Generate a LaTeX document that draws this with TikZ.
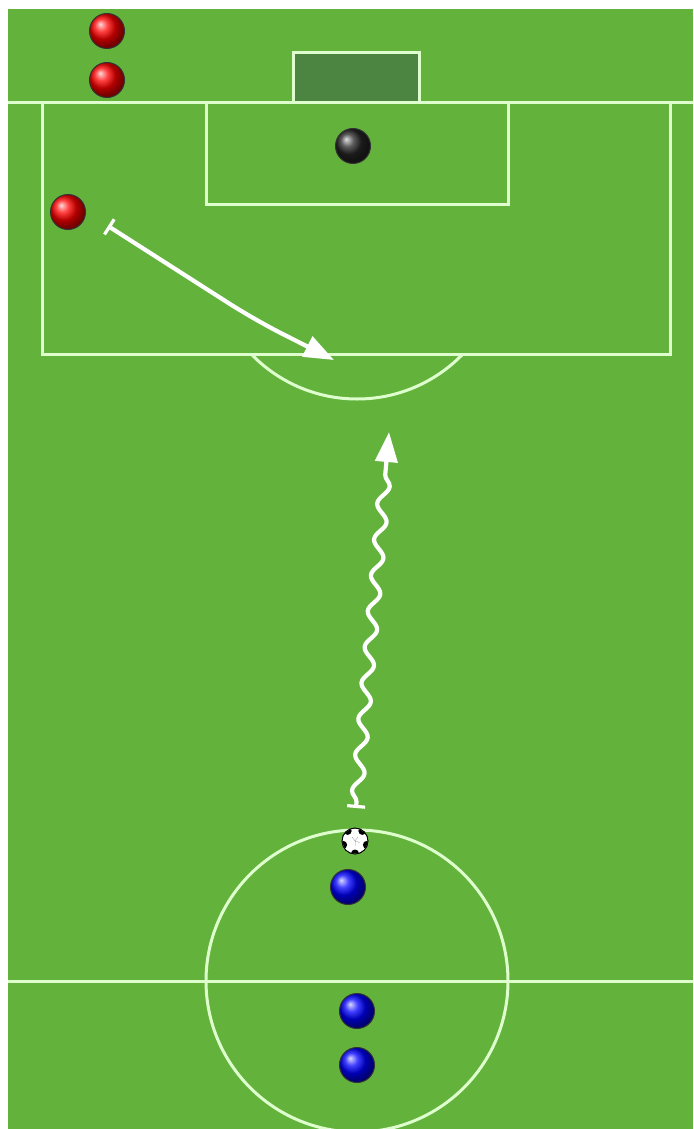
\documentclass[tikz,border=0pt]{standalone}
\usetikzlibrary{arrows.meta,decorations.pathmorphing,shapes.geometric}
\definecolor{grass}{RGB}{99,178,60}
\definecolor{goalfill}{RGB}{76,132,66}
\definecolor{chalk}{RGB}{222,255,205}
\tikzset{
  fieldline/.style={draw=chalk,line width=3pt},
  player/.style={circle,inner sep=0pt,minimum size=35pt,draw=black!80,line width=1pt},
  redp/.style={player,ball color=red},
  bluep/.style={player,ball color=blue},
  keeper/.style={player,ball color=black!85},
  startbar/.style={{Bar[width=18pt,line width=3.2pt]}-{Triangle[length=30pt,width=22pt]}},
  runline/.style={draw=white,line width=4.2pt,line join=round},
  dribble/.style={decorate,decoration={snake,amplitude=5.5pt,segment length=36pt,pre length=6pt,post length=30pt}}
}
\begin{document}
\begin{tikzpicture}[x=1pt,y=-1pt]
\useasboundingbox (0,0) rectangle (693,1129);
\fill[white] (0,0) rectangle (693,1129);
\fill[grass] (8,9) rectangle (693,1129);
% goal
\filldraw[fill=goalfill,fieldline] (293,103) -- (293,53) -- (419,53) -- (419,103);
% goal line
\draw[fieldline] (8,103) -- (693,103);
% penalty area
\draw[fieldline] (42,103) rectangle (670,354);
% goal area
\draw[fieldline] (206,103) rectangle (508,204);
% penalty arc (centre 357,252, r=147)
\begin{scope}
\clip (8,355) rectangle (693,420);
\draw[fieldline] (357,252) circle (147);
\end{scope}
% halfway line and centre circle
\draw[fieldline] (8,981) -- (693,981);
\draw[fieldline] (357,981) circle (151);
% players
\node[redp] (r1) at (107,31) {};
\node[redp] (r2) at (107,80) {};
\node[redp] (r3) at (68,212) {};
\node[keeper] (gk) at (353,146) {};
\node[bluep] (b1) at (348,887) {};
\node[bluep] (b2) at (357,1011) {};
\node[bluep] (b3) at (357,1065) {};
% ball
\node[circle,draw=black,fill=white,inner sep=0pt,minimum size=26pt,line width=0.6pt] (ball) at (355,841) {};
\begin{scope}
\clip (355,841) circle (12.5);
\fill[black] (355,841) ++(90:5) -- (355,841) ++(18:5) -- (355,841) ++(-54:5) -- (355,841) ++(-126:5) -- (355,841) ++(162:5) -- cycle;
\foreach \a in {90,18,-54,-126,162} {
  \fill[black] (355,841) ++(\a:12.5) circle (4);
}
\end{scope}
\draw[black,line width=0.8pt] (ball.center) circle (13);
% runs
\coordinate (s1) at (108,226);
\coordinate (k1) at (255,320);
\coordinate (e1) at (334,360);
\draw[runline,startbar,rounded corners=30pt] (s1) -- (k1) -- (e1);
\coordinate (s2) at (356,808);
\coordinate (e2) at (389,432);
\draw[runline,startbar,dribble] (s2) -- (e2);
\end{tikzpicture}
\end{document}
